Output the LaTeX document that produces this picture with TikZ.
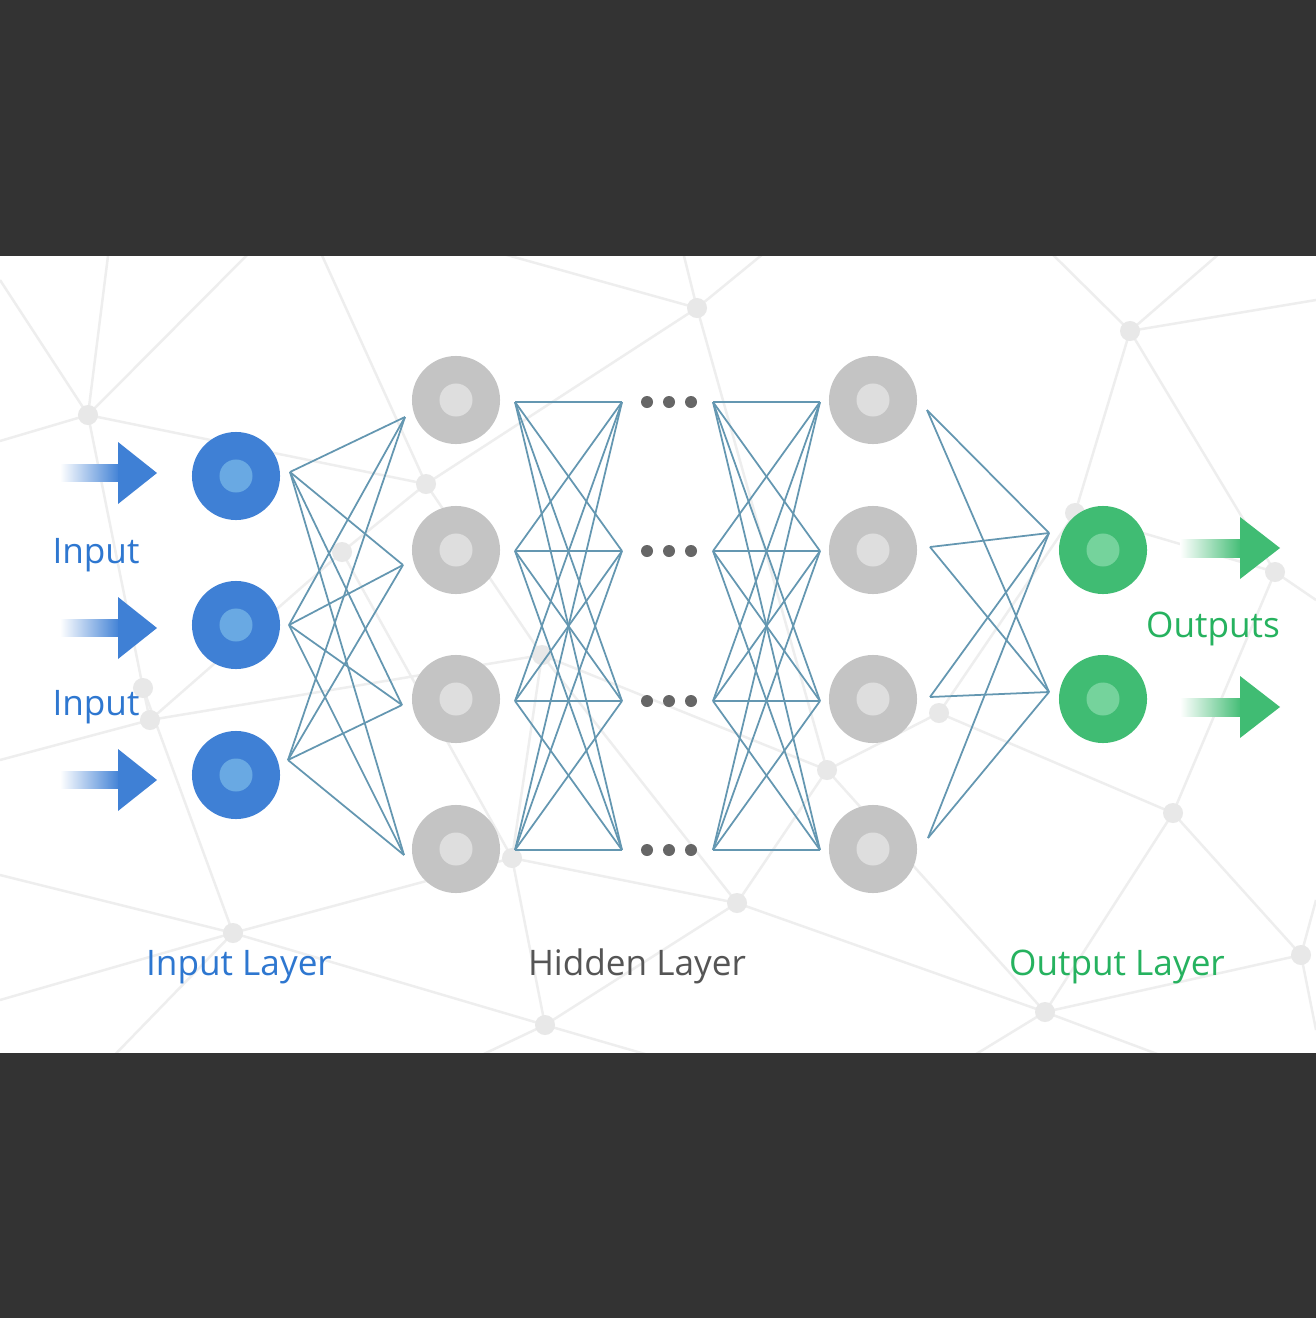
\documentclass[tikz,border=0pt]{standalone}
\usepackage{fontspec}
\setmainfont{Open Sans}
\usepackage{tikz}
\usetikzlibrary{positioning,calc}
\usepackage{xcolor}

\definecolor{darkbg}{HTML}{333333}
\definecolor{meshcol}{HTML}{EEEEEE}
\definecolor{meshdot}{HTML}{E8E8E8}
\definecolor{inblue}{HTML}{3F80D5}
\definecolor{inbluelt}{HTML}{69A9E3}
\definecolor{hidgray}{HTML}{C4C4C4}
\definecolor{hidgraylt}{HTML}{DEDEDE}
\definecolor{outgreen}{HTML}{40BC73}
\definecolor{outgreenlt}{HTML}{75D39C}
\definecolor{linkcol}{HTML}{6497B1}
\definecolor{dotcol}{HTML}{666666}
\definecolor{txtgray}{HTML}{555555}
\definecolor{txtblue}{HTML}{2E77D0}
\definecolor{txtgreen}{HTML}{26B25F}

\begin{document}
\begin{tikzpicture}[
    x=0.01cm, y=-0.01cm,
    neuron/.style 2 args={circle, inner sep=0pt, minimum size=0.88cm, fill=#1,
        path picture={\fill[#2] (path picture bounding box.center) circle (0.165cm);}},
    innode/.style={neuron={inblue}{inbluelt}},
    hidnode/.style={neuron={hidgray}{hidgraylt}},
    outnode/.style={neuron={outgreen}{outgreenlt}},
    link/.style={draw=linkcol, line width=0.5pt},
    mesh/.style={draw=meshcol, line width=0.7pt},
    lbl/.style={anchor=base, font=\fontsize{10}{12}\selectfont}
]
\useasboundingbox (0,0) rectangle (1316,1318);

% Background mesh
\fill[white] (0,256) rectangle (1316,1053);
\coordinate (mA) at (88,415);   \coordinate (mB) at (697,308);
\coordinate (mC) at (1130,331); \coordinate (mD) at (426,484);
\coordinate (mE) at (342,552);  \coordinate (mF) at (143,688);
\coordinate (mG) at (150,720);  \coordinate (mH) at (542,655);
\coordinate (mI) at (827,770);  \coordinate (mJ) at (939,713);
\coordinate (mK) at (1075,513); \coordinate (mL) at (1275,572);
\coordinate (mM) at (1173,813); \coordinate (mN) at (512,858);
\coordinate (mO) at (233,933);  \coordinate (mP) at (737,903);
\coordinate (mQ) at (545,1025); \coordinate (mR) at (1045,1012);
\coordinate (mS) at (1301,955);
\draw[mesh] (0,280) -- (mA) -- (110,240);
\draw[mesh] (262,240) -- (mA) -- (0,441);
\draw[mesh] (mA) -- (mD) -- (315,240);
\draw[mesh] (mA) -- (mF) -- (mO);
\draw[mesh] (453,240) -- (mB) -- (680,240);
\draw[mesh] (780,240) -- (mB) -- (mD);
\draw[mesh] (mB) -- (mI);
\draw[mesh] (1038,240) -- (mC) -- (1235,240);
\draw[mesh] (mC) -- (mL);
\draw[mesh] (mC) -- (mK) -- (mJ);
\draw[mesh] (mC) -- (1316,300);
\draw[mesh] (mD) -- (mE) -- (mG);
\draw[mesh] (mD) -- (mH);
\draw[mesh] (mE) -- (mN);
\draw[mesh] (mF) -- (mG) -- (0,760);
\draw[mesh] (mG) -- (mH) -- (mI) -- (mJ);
\draw[mesh] (mH) -- (mN) -- (mO);
\draw[mesh] (mH) -- (mP);
\draw[mesh] (mI) -- (mP) -- (mQ);
\draw[mesh] (mI) -- (mR);
\draw[mesh] (mJ) -- (mM) -- (mL) -- (mK);
\draw[mesh] (mL) -- (1316,600);
\draw[mesh] (mM) -- (mS) -- (1316,900);
\draw[mesh] (mM) -- (mR) -- (mS) -- (1316,1030);
\draw[mesh] (mN) -- (mQ) -- (mO);
\draw[mesh] (mN) -- (mP) -- (mR);
\draw[mesh] (mO) -- (0,1000);
\draw[mesh] (mO) -- (100,1070);
\draw[mesh] (mQ) -- (450,1070);
\draw[mesh] (mQ) -- (700,1070);
\draw[mesh] (mR) -- (950,1070);
\draw[mesh] (mR) -- (1200,1070);
\draw[mesh] (0,875) -- (mO);
\foreach \p in {mA,mB,mC,mD,mE,mF,mG,mH,mI,mJ,mK,mL,mM,mN,mO,mP,mQ,mR,mS}
    \fill[meshdot] (\p) circle (0.1cm);

% Frame
\fill[darkbg] (0,0) rectangle (1316,256);
\fill[darkbg] (0,1053) rectangle (1316,1318);

% Input layer
\node[innode] (in1) at (236,476) {};
\node[innode] (in2) at (236,625) {};
\node[innode] (in3) at (236,775) {};

% Hidden layer
\foreach \y [count=\k] in {400,550,699,849} {
    \node[hidnode] (ha\k) at (456,\y) {};
    \node[hidnode] (hb\k) at (873,\y) {};
}

% Output layer
\node[outnode] (out1) at (1103,550) {};
\node[outnode] (out2) at (1103,699) {};

% Ports
\coordinate (in1-o) at (290,472);
\coordinate (in2-o) at (289,625);
\coordinate (in3-o) at (288,760);
\coordinate (ha1-i) at (405,417);
\coordinate (ha2-i) at (403,565);
\coordinate (ha3-i) at (402,705);
\coordinate (ha4-i) at (404,855);
\coordinate (hb1-o) at (927,410);
\coordinate (hb2-o) at (930,547);
\coordinate (hb3-o) at (930,697);
\coordinate (hb4-o) at (928,838);
\coordinate (out1-i) at (1049,533);
\coordinate (out2-i) at (1049,692);
\foreach \y [count=\k] in {402,551,701,850} {
    \coordinate (ha\k-o) at (515,\y);
    \coordinate (ma\k-i) at (622,\y);
    \coordinate (mb\k-o) at (713,\y);
    \coordinate (hb\k-i) at (820,\y);
}

% Links
\foreach \i in {1,2,3}
    \foreach \j in {1,...,4}
        \draw[link] (in\i-o) -- (ha\j-i);
\foreach \i in {1,...,4}
    \foreach \j in {1,...,4} {
        \draw[link] (ha\i-o) -- (ma\j-i);
        \draw[link] (mb\i-o) -- (hb\j-i);
    }
\foreach \i in {1,...,4}
    \foreach \j in {1,2}
        \draw[link] (hb\i-o) -- (out\j-i);

% Ellipsis dots
\foreach \y in {402,551,701,850}
    \foreach \x in {647,669,691}
        \fill[dotcol] (\x,\y) circle (0.06cm);

% Input arrows
\foreach \y in {473,628,780} {
    \shade[left color=white, right color=inblue] (60,\y-8.5) rectangle (120,\y+8.5);
    \fill[inblue] (118,\y-31) -- (157,\y) -- (118,\y+31) -- cycle;
}

% Output arrows
\foreach \y in {548,707} {
    \shade[left color=white, right color=outgreen] (1180,\y-9) rectangle (1242,\y+9);
    \fill[outgreen] (1240,\y-31) -- (1280,\y) -- (1240,\y+31) -- cycle;
}

% Labels
\node[lbl, text=txtblue] (inlab1) at (96,563) {Input};
\node[lbl, text=txtblue] (inlab2) at (96,715) {Input};
\node[lbl, text=txtgreen] (outlab) at (1213,637) {Outputs};
\node[lbl, text=txtblue] (inlayer) at (239,975) {Input Layer};
\node[lbl, text=txtgray] (hidlayer) at (637,975) {Hidden Layer};
\node[lbl, text=txtgreen] (outlayer) at (1117,975) {Output Layer};

\end{tikzpicture}
\end{document}
